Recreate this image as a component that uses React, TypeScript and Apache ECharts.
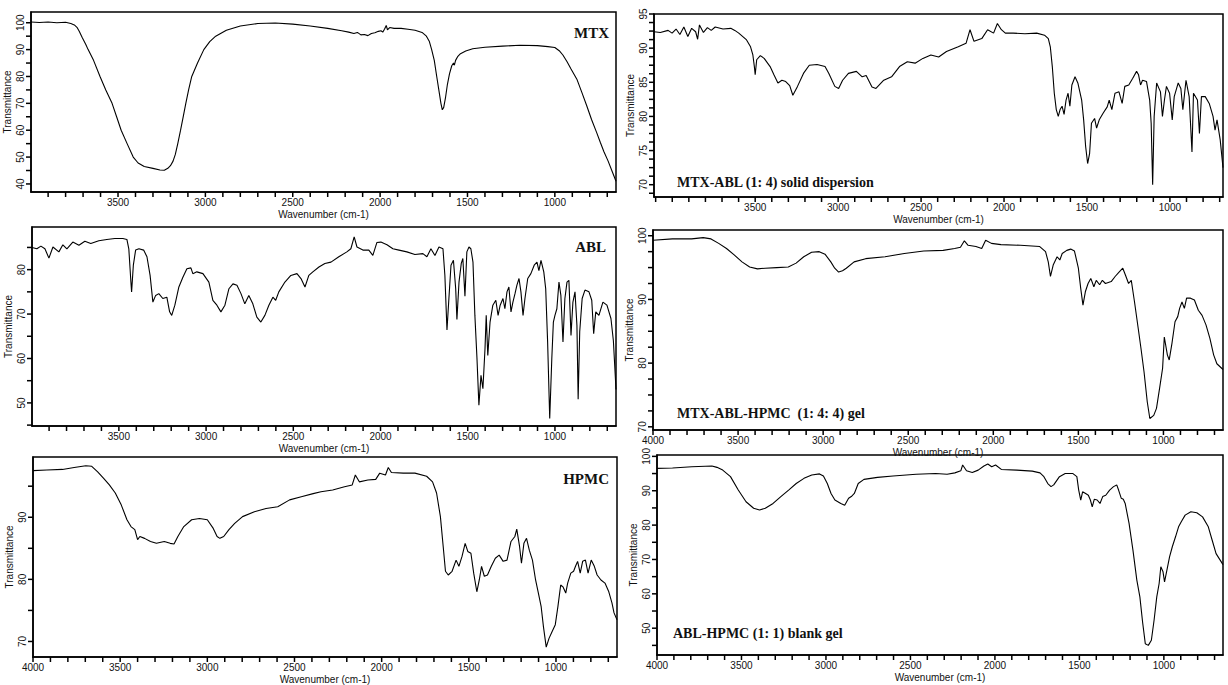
import React, { useEffect, useRef } from "react";
import * as echarts from "echarts";

type Pt = [number, number];

// ---------------- spectra (wavenumber cm-1, transmittance %) ----------------
const mtxData: Pt[] = [
  [3998, 100.3], [3950, 100.1], [3900, 100.3], [3850, 100.0], [3800, 100.2], [3770, 99.7], [3750, 99.2],
  [3735, 98.3], [3722, 96.8], [3705, 94.5], [3685, 92], [3671, 90], [3640, 86], [3603, 80], [3570, 75],
  [3534, 70], [3508, 65], [3482, 60], [3448, 55], [3413, 50], [3385, 47.8], [3350, 46.5], [3300, 45.8],
  [3260, 45.2], [3235, 45.1], [3215, 45.8], [3200, 46.8], [3185, 48.5], [3172, 51], [3158, 55], [3142, 60],
  [3127, 65], [3112, 70], [3096, 75], [3078, 80], [3045, 85], [3009, 90], [2975, 93], [2941, 95],
  [2880, 97.2], [2800, 98.8], [2700, 99.7], [2600, 99.9], [2500, 99.5], [2400, 98.8], [2300, 97.9],
  [2220, 97], [2180, 96.5], [2150, 96.0], [2130, 96.4], [2110, 95.5], [2090, 95.6], [2070, 95.2],
  [2050, 96.0], [2030, 96.3], [2010, 96.8], [1995, 97.0], [1985, 96.5], [1975, 97.6], [1965, 99.0],
  [1958, 97.4], [1945, 98.2], [1920, 97.9], [1880, 97.9], [1840, 97.6], [1800, 97.2], [1760, 96.4],
  [1735, 95.0], [1718, 93], [1705, 90], [1690, 86], [1676, 80], [1664, 75], [1652, 70], [1644, 67.6],
  [1636, 68.5], [1626, 72], [1615, 77], [1603, 81], [1590, 84], [1580, 85], [1575, 84.2], [1568, 86],
  [1555, 87.5], [1540, 88.5], [1510, 89.5], [1470, 90.3], [1400, 90.9], [1300, 91.3], [1200, 91.6],
  [1100, 91.5], [1040, 91.1], [1000, 90.8], [975, 89.6], [954, 88], [930, 85.5], [909, 83], [874, 79],
  [845, 74], [817, 69], [790, 64], [760, 59], [740, 55.5], [719, 52], [695, 48.5], [674, 45], [650, 41],
];

const mtxAblData: Pt[] = [
  [4110, 92.4], [4072, 92.3], [4025, 92.6], [4001, 92.2], [3977, 92.8], [3954, 92.0], [3930, 93.1],
  [3906, 91.7], [3883, 92.9], [3859, 92.4], [3847, 91.3], [3836, 93.4], [3812, 92.3], [3788, 93.0],
  [3765, 92.6], [3741, 93.1], [3694, 92.8], [3647, 92.9], [3623, 92.6], [3599, 92.2], [3552, 91.2],
  [3528, 90.2], [3514, 89.0], [3505, 87.3], [3500, 86.1], [3491, 88.3], [3469, 88.9], [3446, 88.5],
  [3410, 87.3], [3387, 86.1], [3363, 84.9], [3339, 85.3], [3316, 85.1], [3292, 84.5], [3273, 83.1],
  [3245, 84.4], [3209, 86.3], [3174, 87.5], [3127, 87.6], [3079, 87.3], [3056, 86.3], [3020, 84.4],
  [2997, 84.1], [2973, 85.3], [2938, 86.3], [2890, 86.6], [2855, 85.8], [2831, 86.0], [2796, 84.3],
  [2772, 84.1], [2725, 85.3], [2678, 85.8], [2630, 87.3], [2583, 88.0], [2536, 87.8], [2489, 88.5],
  [2441, 89.0], [2394, 88.7], [2347, 89.5], [2276, 90.2], [2229, 90.7], [2205, 92.7], [2181, 91.0],
  [2134, 91.4], [2099, 92.7], [2063, 92.2], [2040, 93.6], [2016, 92.7], [1992, 92.2], [1945, 92.2],
  [1874, 92.1], [1803, 92.2], [1756, 91.9], [1733, 91.4], [1721, 90.2], [1709, 87.3], [1697, 83.4],
  [1685, 81.0], [1673, 80.0], [1662, 81.0], [1650, 81.5], [1638, 80.3], [1626, 82.4], [1614, 83.4],
  [1603, 81.5], [1591, 84.6], [1572, 85.8], [1555, 84.9], [1532, 82.4], [1520, 79.5], [1508, 75.6],
  [1496, 73.1], [1484, 74.6], [1473, 79.0], [1454, 79.7], [1442, 78.3], [1426, 79.5], [1402, 80.5],
  [1378, 81.4], [1366, 82.4], [1350, 81.0], [1331, 83.4], [1307, 83.6], [1288, 81.9], [1272, 84.4],
  [1248, 84.6], [1224, 85.6], [1201, 86.6], [1189, 86.1], [1177, 84.6], [1165, 85.3], [1141, 85.1],
  [1122, 82.4], [1113, 79.0], [1104, 70.0], [1095, 80.0], [1080, 84.9], [1057, 83.6], [1045, 80.0],
  [1033, 82.4], [1021, 84.4], [1002, 83.4], [986, 79.5], [974, 82.9], [950, 84.9], [934, 84.1],
  [922, 81.0], [903, 85.3], [884, 82.9], [867, 74.8], [858, 83.4], [834, 82.4], [822, 77.5], [810, 82.9],
  [787, 82.9], [763, 81.9], [740, 80.0], [728, 78.0], [716, 79.5], [697, 76.6], [680, 72.5],
];

const ablData: Pt[] = [
  [3998, 85.0], [3970, 84.7], [3947, 85.3], [3924, 84.7], [3901, 82.6], [3878, 85.1], [3844, 84.0],
  [3821, 85.6], [3798, 84.7], [3764, 86.2], [3729, 85.5], [3695, 86.4], [3661, 85.9], [3615, 86.5],
  [3569, 86.8], [3523, 87.0], [3477, 87.0], [3454, 86.8], [3443, 84.7], [3431, 77.2], [3427, 75.0],
  [3417, 81.0], [3404, 84.4], [3385, 84.7], [3358, 84.4], [3339, 82.9], [3321, 78.7], [3305, 72.7],
  [3289, 74.2], [3271, 74.6], [3248, 73.5], [3225, 73.8], [3209, 70.5], [3197, 69.7], [3179, 72.0],
  [3156, 76.1], [3133, 78.3], [3110, 80.2], [3087, 80.4], [3076, 79.1], [3053, 79.5], [3018, 79.1],
  [2984, 77.2], [2961, 73.1], [2938, 72.0], [2915, 70.5], [2892, 72.0], [2869, 75.7], [2846, 76.8],
  [2823, 76.5], [2800, 74.6], [2778, 72.3], [2755, 74.2], [2732, 72.3], [2709, 69.3], [2686, 68.2],
  [2663, 69.7], [2640, 72.0], [2617, 73.8], [2601, 73.1], [2583, 75.0], [2548, 77.2], [2514, 78.7],
  [2479, 79.1], [2456, 78.0], [2433, 76.1], [2411, 78.7], [2388, 79.5], [2353, 80.6], [2319, 81.4],
  [2284, 81.7], [2239, 82.9], [2193, 84.0], [2170, 84.7], [2151, 87.4], [2135, 85.1], [2101, 84.4],
  [2067, 84.4], [2044, 83.2], [2021, 86.1], [1998, 86.2], [1963, 85.6], [1929, 84.7], [1894, 84.4],
  [1849, 84.0], [1803, 83.4], [1757, 83.6], [1734, 82.9], [1711, 84.7], [1688, 83.2], [1665, 85.1],
  [1642, 84.7], [1631, 78.7], [1619, 66.4], [1608, 73.5], [1596, 81.0], [1582, 82.1], [1569, 75.7],
  [1562, 68.8], [1550, 77.2], [1537, 81.4], [1528, 82.5], [1516, 74.0], [1505, 84.0], [1493, 85.1],
  [1482, 84.7], [1470, 81.7], [1459, 69.7], [1447, 60.0], [1436, 49.5], [1424, 56.2], [1413, 53.2],
  [1401, 62.2], [1394, 69.7], [1385, 60.7], [1372, 68.2], [1356, 72.0], [1339, 73.1], [1326, 69.7],
  [1314, 72.0], [1298, 73.5], [1287, 71.2], [1275, 75.0], [1264, 76.1], [1252, 70.5], [1241, 72.7],
  [1229, 74.6], [1218, 76.5], [1206, 78.0], [1195, 75.0], [1183, 69.7], [1172, 73.5], [1156, 78.0],
  [1138, 79.1], [1119, 81.0], [1103, 81.7], [1092, 79.8], [1080, 82.1], [1064, 79.5], [1053, 75.7],
  [1042, 63.7], [1030, 46.5], [1018, 60.0], [1009, 68.2], [1000, 69.7], [989, 71.2], [977, 77.2],
  [966, 74.2], [954, 63.7], [943, 73.5], [931, 77.2], [920, 77.6], [908, 65.2], [897, 72.7], [885, 75.0],
  [874, 67.5], [867, 50.8], [858, 66.0], [844, 73.5], [828, 75.4], [805, 75.0], [789, 73.1], [778, 65.6],
  [766, 70.5], [748, 69.7], [725, 72.7], [702, 72.0], [679, 69.0], [665, 64], [650, 53],
];

const mtxAblHpmcData: Pt[] = [
  [4000, 99.3], [3886, 99.5], [3773, 99.5], [3705, 99.7], [3659, 99.5], [3614, 98.8], [3568, 98.0],
  [3523, 97.0], [3477, 95.9], [3432, 95.1], [3386, 94.8], [3341, 94.9], [3273, 95.0], [3205, 95.1],
  [3159, 95.7], [3114, 96.7], [3068, 97.4], [3023, 97.5], [2989, 97.1], [2955, 95.9], [2932, 94.9],
  [2909, 94.3], [2886, 94.5], [2864, 94.9], [2818, 95.9], [2750, 96.4], [2636, 96.7], [2523, 97.2],
  [2409, 97.6], [2295, 97.7], [2227, 98.0], [2193, 98.2], [2170, 99.2], [2148, 98.5], [2102, 98.3],
  [2068, 98.0], [2045, 99.3], [2011, 98.8], [1955, 98.6], [1841, 98.5], [1727, 98.3], [1693, 97.5],
  [1677, 95.9], [1664, 93.6], [1648, 95.4], [1625, 96.7], [1609, 96.2], [1595, 97.2], [1568, 97.7],
  [1545, 97.9], [1523, 97.6], [1500, 94.9], [1486, 91.7], [1473, 89.1], [1459, 91.2], [1443, 92.5],
  [1427, 93.3], [1409, 92.0], [1395, 93.0], [1375, 92.3], [1359, 93.0], [1341, 92.5], [1307, 92.8],
  [1284, 93.6], [1261, 94.3], [1239, 94.9], [1223, 93.8], [1205, 92.5], [1189, 93.0], [1170, 89.6],
  [1148, 85.4], [1132, 82.3], [1114, 78.6], [1095, 73.9], [1080, 71.3], [1057, 71.8], [1041, 72.9],
  [1023, 76.0], [1005, 79.2], [995, 84.1], [977, 81.3], [966, 80.5], [950, 83.1], [932, 86.5],
  [916, 87.3], [905, 88.6], [891, 89.6], [877, 88.6], [864, 90.2], [841, 90.2], [818, 89.9], [795, 88.3],
  [773, 87.5], [750, 86.0], [727, 83.9], [705, 81.3], [686, 79.9], [650, 79.0],
];

const hpmcData: Pt[] = [
  [4000, 97.5], [3921, 97.6], [3831, 97.7], [3764, 98.0], [3697, 98.3], [3663, 98.2], [3629, 97.3],
  [3596, 96.3], [3562, 95.2], [3528, 93.9], [3494, 92.0], [3461, 89.6], [3438, 88.5], [3416, 88.0],
  [3400, 86.4], [3387, 86.9], [3360, 86.6], [3326, 86.1], [3292, 85.8], [3247, 86.1], [3213, 85.8],
  [3191, 85.7], [3169, 86.9], [3135, 88.5], [3090, 89.6], [3045, 89.8], [3000, 89.6], [2966, 88.2],
  [2944, 86.9], [2928, 86.6], [2906, 86.9], [2876, 88.0], [2843, 89.0], [2798, 90.1], [2730, 90.9],
  [2663, 91.4], [2596, 91.7], [2528, 92.8], [2461, 93.3], [2393, 93.8], [2348, 94.1], [2281, 94.4],
  [2213, 94.9], [2169, 95.2], [2151, 96.8], [2128, 95.7], [2079, 96.0], [2034, 96.1], [2011, 97.1],
  [1978, 96.8], [1962, 98.0], [1944, 97.2], [1876, 97.1], [1809, 97.1], [1742, 96.6], [1708, 95.7],
  [1685, 93.9], [1663, 90.1], [1647, 85.3], [1634, 81.3], [1618, 80.7], [1596, 81.3], [1573, 83.1],
  [1557, 82.1], [1539, 83.7], [1521, 85.8], [1506, 84.5], [1488, 84.2], [1472, 81.0], [1454, 78.0],
  [1440, 79.9], [1427, 82.1], [1411, 80.5], [1393, 80.7], [1371, 82.1], [1348, 83.4], [1326, 83.9],
  [1303, 82.9], [1281, 83.1], [1258, 86.1], [1236, 86.9], [1225, 88.1], [1209, 85.3], [1198, 82.6],
  [1184, 85.8], [1169, 86.6], [1153, 84.7], [1135, 83.1], [1117, 79.9], [1101, 77.8], [1085, 75.6],
  [1072, 72.4], [1056, 69.1], [1040, 70.5], [1022, 71.6], [1004, 72.7], [989, 75.6], [973, 79.1],
  [960, 78.8], [944, 77.8], [933, 79.4], [915, 81.0], [899, 81.3], [888, 82.1], [876, 82.9], [861, 81.0],
  [847, 82.9], [831, 83.1], [816, 81.0], [798, 83.1], [780, 82.1], [764, 80.7], [742, 79.9], [719, 79.4],
  [697, 78.0], [679, 76.2], [667, 74.6], [650, 73.5],
];

const ablHpmcData: Pt[] = [
  [4000, 96.5], [3908, 96.6], [3794, 97.0], [3675, 97.2], [3645, 96.8], [3611, 96.0], [3565, 94.1],
  [3519, 90.2], [3473, 86.8], [3428, 84.9], [3393, 84.4], [3359, 84.9], [3313, 86.3], [3267, 88.3],
  [3221, 90.2], [3176, 92.1], [3130, 93.6], [3084, 94.6], [3038, 94.9], [3015, 94.3], [2992, 92.1],
  [2970, 89.2], [2947, 87.3], [2912, 86.3], [2889, 85.8], [2866, 87.8], [2850, 88.3], [2832, 89.2],
  [2809, 92.1], [2775, 93.3], [2695, 93.9], [2603, 94.3], [2466, 94.8], [2351, 95.0], [2283, 94.8],
  [2237, 95.2], [2202, 95.8], [2191, 97.5], [2168, 95.8], [2134, 95.3], [2099, 96.0], [2065, 97.2],
  [2042, 97.8], [2019, 97.0], [1996, 97.5], [1962, 96.2], [1870, 96.0], [1779, 95.7], [1733, 95.2],
  [1710, 94.1], [1687, 92.1], [1668, 91.2], [1652, 91.7], [1618, 94.1], [1584, 95.0], [1538, 95.0],
  [1515, 94.1], [1504, 90.2], [1492, 87.3], [1481, 89.7], [1463, 89.2], [1447, 88.7], [1435, 87.3],
  [1424, 85.3], [1412, 87.5], [1395, 87.3], [1378, 86.3], [1362, 88.3], [1344, 88.7], [1321, 90.2],
  [1298, 91.2], [1279, 91.7], [1268, 90.2], [1252, 87.8], [1240, 87.5], [1229, 86.3], [1206, 80.5],
  [1183, 72.7], [1160, 64.0], [1142, 59.1], [1126, 51.8], [1110, 45.5], [1092, 45.0], [1074, 46.5],
  [1058, 52.3], [1042, 59.1], [1028, 63.0], [1018, 67.9], [1005, 66.4], [996, 63.5], [982, 66.9],
  [966, 70.8], [950, 73.7], [931, 76.6], [913, 79.5], [897, 81.0], [874, 82.9], [840, 83.9], [805, 83.6],
  [771, 82.4], [737, 79.5], [714, 75.6], [691, 71.7], [650, 68.5],
];

// ---------------- names, tick labels & tick marks ----------------
const sampleNames = [
  "MTX",
  "MTX-ABL (1: 4) solid dispersion",
  "ABL",
  "MTX-ABL-HPMC  (1: 4: 4) gel",
  "HPMC",
  "ABL-HPMC (1: 1) blank gel",
];

const xLabels = [3500, 3000, 2500, 2000, 1500, 1000];
const xLabelsWith4000 = [4000, 3500, 3000, 2500, 2000, 1500, 1000];
const xTicks = [700, 800, 900, 1000, 1100, 1200, 1300, 1400, 1500, 1600, 1700, 1800, 1900, 2000, 2100, 2200,
  2300, 2400, 2500, 2600, 2700, 2800, 2900, 3000, 3100, 3200, 3300, 3400, 3500, 3600, 3700, 3800, 3900];
const xTicksWith4000 = [...xTicks, 4000];
const xTicksWith4100 = [...xTicks, 4000, 4100];

const yLabelsMTX = [40, 50, 60, 70, 80, 90, 100];
const yTicksMTX = [40, 45, 50, 55, 60, 65, 70, 75, 80, 85, 90, 95, 100];
const yLabelsMTXABL = [70, 75, 80, 85, 90, 95];
const yTicksMTXABL = [68.75, 70, 71.25, 72.5, 73.75, 75, 76.25, 77.5, 78.75, 80, 81.25, 82.5, 83.75, 85,
  86.25, 87.5, 88.75, 90, 91.25, 92.5, 93.75, 95];
const yLabelsABL = [50, 60, 70, 80];
const yTicksABL = [45, 50, 55, 60, 65, 70, 75, 80, 85];
const yLabelsGel = [70, 80, 90, 100];
const yTicksGel = [70, 72.5, 75, 77.5, 80, 82.5, 85, 87.5, 90, 92.5, 95, 97.5, 100];
const yLabelsHPMC = [70, 80, 90];
const yTicksHPMC = [70, 75, 80, 85, 90, 95];
const yLabelsBlank = [50, 60, 70, 80, 90, 100];
const yTicksBlank = [45, 50, 55, 60, 65, 70, 75, 80, 85, 90, 95, 100];

// ---------------- panel layout ----------------
const panels = [
  { data: mtxData, left: 31, top: 12, width: 585, height: 180, xMin: 650, xMax: 3998, yMin: 37, yMax: 104,
    xl: xLabels, xt: xTicks, yl: yLabelsMTX, yt: yTicksMTX, tx: 609, ty: 33, ta: "right", fs: 15 },
  { data: mtxAblData, left: 654, top: 14, width: 569, height: 183, xMin: 680, xMax: 4110, yMin: 68.2, yMax: 95,
    xl: xLabels, xt: xTicksWith4100, yl: yLabelsMTXABL, yt: yTicksMTXABL, tx: 677, ty: 182, ta: "left", fs: 14 },
  { data: ablData, left: 32, top: 227, width: 584, height: 199, xMin: 650, xMax: 3998, yMin: 44.8, yMax: 89.6,
    xl: xLabels, xt: xTicks, yl: yLabelsABL, yt: yTicksABL, tx: 606, ty: 247, ta: "right", fs: 15 },
  { data: mtxAblHpmcData, left: 653, top: 230, width: 570, height: 200, xMin: 650, xMax: 4000, yMin: 69.5, yMax: 100.9,
    xl: xLabelsWith4000, xt: xTicksWith4000, yl: yLabelsGel, yt: yTicksGel, tx: 677, ty: 413, ta: "left", fs: 14 },
  { data: hpmcData, left: 33, top: 457, width: 584, height: 200, xMin: 650, xMax: 4000, yMin: 67.5, yMax: 99.7,
    xl: xLabelsWith4000, xt: xTicksWith4000, yl: yLabelsHPMC, yt: yTicksHPMC, tx: 609, ty: 479, ta: "right", fs: 15 },
  { data: ablHpmcData, left: 657, top: 455, width: 566, height: 200, xMin: 650, xMax: 4000, yMin: 42.2, yMax: 100.4,
    xl: xLabelsWith4000, xt: xTicksWith4000, yl: yLabelsBlank, yt: yTicksBlank, tx: 673, ty: 633, ta: "left", fs: 14 },
];

const SANS = '"Liberation Sans", Arial, Helvetica, sans-serif';
const SERIF = '"Liberation Serif", "Times New Roman", serif';
const TICK_LEN = 5;

export default function App() {
  const ref = useRef<HTMLDivElement>(null);

  useEffect(() => {
    document.body.style.margin = "0";
    document.body.style.overflow = "hidden";
    if (!ref.current) return;
    const chart = echarts.init(ref.current, undefined, { renderer: "svg", width: 1228, height: 685 });

    const lineSeries = panels.map((p, i) => ({
      type: "line",
      xAxisIndex: i,
      yAxisIndex: i,
      data: p.data,
      showSymbol: false,
      symbol: "none",
      clip: true,
      lineStyle: { color: "#000", width: 1.1 },
      emphasis: { disabled: true },
      silent: true,
      z: 3,
    }));

    // outward tick marks on the x axis (bottom edge), placed through the axis scale
    const xTickSeries = panels.map((p, i) => ({
      type: "custom",
      coordinateSystem: "cartesian2d",
      xAxisIndex: i,
      yAxisIndex: i,
      silent: true,
      clip: false,
      z: 4,
      data: p.xt.map((v) => [v, p.yMin]),
      renderItem: (_params: any, api: any) => {
        const pt = api.coord([api.value(0), api.value(1)]);
        return {
          type: "line",
          shape: { x1: pt[0], y1: pt[1], x2: pt[0], y2: pt[1] + TICK_LEN },
          style: { stroke: "#000", lineWidth: 1.5 },
        };
      },
    }));

    // outward tick marks on the y axis (left edge; x axis is inverted so xMax is at the left)
    const yTickSeries = panels.map((p, i) => ({
      type: "custom",
      coordinateSystem: "cartesian2d",
      xAxisIndex: i,
      yAxisIndex: i,
      silent: true,
      clip: false,
      z: 4,
      data: p.yt.map((v) => [p.xMax, v]),
      renderItem: (_params: any, api: any) => {
        const pt = api.coord([api.value(0), api.value(1)]);
        return {
          type: "line",
          shape: { x1: pt[0], y1: pt[1], x2: pt[0] - TICK_LEN, y2: pt[1] },
          style: { stroke: "#000", lineWidth: 1.5 },
        };
      },
    }));

    const option: any = {
      animation: false,
      backgroundColor: "#ffffff",
      tooltip: { show: false },
      grid: panels.map((p) => ({
        left: p.left,
        top: p.top,
        width: p.width,
        height: p.height,
        show: true,
        borderColor: "#000",
        borderWidth: 1.5,
        backgroundColor: "transparent",
        containLabel: false,
        outerBoundsMode: "none",
      })),
      xAxis: panels.map((p, i) => ({
        type: "value",
        gridIndex: i,
        inverse: true,
        min: p.xMin,
        max: p.xMax,
        name: "Wavenumber (cm-1)",
        nameLocation: "middle",
        nameGap: 17,
        nameMoveOverlap: false,
        nameTextStyle: { fontFamily: SANS, fontSize: 10, color: "#111" },
        axisLine: { show: true, onZero: false, lineStyle: { color: "#000", width: 1.5 } },
        axisTick: { show: false },
        axisLabel: {
          show: true, margin: 5, fontFamily: SANS, fontSize: 10, color: "#111", hideOverlap: false,
          customValues: p.xl,
          formatter: (v: number) => String(v),
        },
        splitLine: { show: false },
      })),
      yAxis: panels.map((p, i) => ({
        type: "value",
        gridIndex: i,
        min: p.yMin,
        max: p.yMax,
        name: "Transmittance",
        nameLocation: "middle",
        nameRotate: 90,
        nameGap: 19,
        nameMoveOverlap: false,
        nameTextStyle: { fontFamily: SANS, fontSize: 10, color: "#111" },
        axisLine: { show: true, onZero: false, lineStyle: { color: "#000", width: 1.5 } },
        axisTick: { show: false },
        axisLabel: {
          show: true, rotate: 90, margin: 6, fontFamily: SANS, fontSize: 10, color: "#111", hideOverlap: false,
          customValues: p.yl,
          formatter: (v: number) => String(v),
        },
        splitLine: { show: false },
      })),
      series: [...lineSeries, ...xTickSeries, ...yTickSeries],
      graphic: panels.map((p, i) => ({
        type: "text",
        x: p.tx,
        y: p.ty,
        z: 100,
        style: {
          text: sampleNames[i],
          font: `bold ${p.fs}px ${SERIF}`,
          fill: "#111",
          align: p.ta,
          verticalAlign: "middle",
        },
      })),
    };

    chart.setOption(option);
    return () => chart.dispose();
  }, []);

  return <div ref={ref} style={{ width: 1228, height: 685, background: "#fff", overflow: "hidden" }} />;
}
